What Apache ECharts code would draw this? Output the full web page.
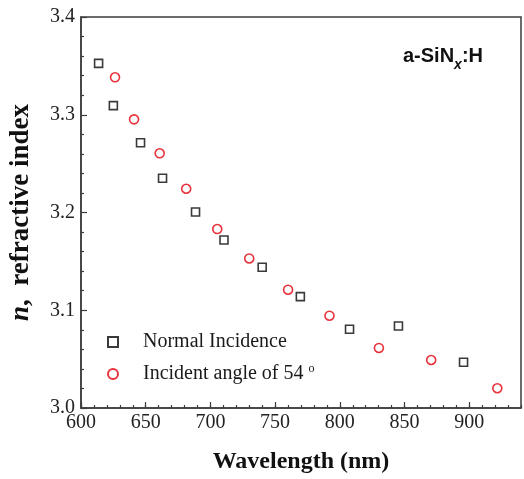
<!DOCTYPE html>
<html>
<head>
<meta charset="utf-8">
<script src="https://cdn.jsdelivr.net/npm/echarts@6/dist/echarts.min.js"></script>
<style>
  html, body { margin: 0; padding: 0; background: #fff; }
  #chart { width: 524px; height: 479px; }
</style>
</head>
<body>
<div id="chart"></div>
<script>
// values
const normalWl = [613.6, 625, 646, 663, 688.5, 710.5, 740, 769.5, 807.5, 845.3, 895.6];
const normalN = [3.3526, 3.3093, 3.2714, 3.235, 3.2005, 3.1719, 3.144, 3.1139, 3.0805, 3.0839, 3.0468];

const angleWl = [626.3, 641, 660.8, 681.3, 705.3, 730, 760, 792, 830.2, 870.6, 921.7];
const angleN = [3.3383, 3.2953, 3.2606, 3.2243, 3.1831, 3.153, 3.121, 3.0944, 3.0614, 3.0491, 3.0202];

const seriesNames = ['Normal Incidence', 'Incident angle of 54'];

const serif = '"Liberation Serif", "DejaVu Serif", serif';
const sans = '"Liberation Sans", Arial, sans-serif';

const chart = echarts.init(document.getElementById('chart'));

const pairs = (xs, ys) => xs.map((x, i) => [x, ys[i]]);

const option = {
  animation: false,
  backgroundColor: '#fff',
  title: {
    text: '{a|a-SiN}{x|x}{a|:H}',
    left: 403,
    top: 40,
    padding: 0,
    textStyle: {
      rich: {
        a: { fontFamily: sans, fontWeight: 'bold', fontSize: 20, lineHeight: 32, color: '#111' },
        x: { fontFamily: sans, fontWeight: 'bold', fontStyle: 'italic', fontSize: 14, lineHeight: 14,
             verticalAlign: 'bottom', color: '#111' }
      }
    }
  },
  legend: {
    orient: 'vertical',
    left: 102,
    top: 327,
    itemWidth: 10,
    itemHeight: 10,
    itemGap: 11,
    data: seriesNames,
    formatter: name => name === seriesNames[1] ? '{t|' + name + ' }{s|o}' : '{t|' + name + '}',
    textStyle: {
      padding: [0, 0, 0, 20],
      rich: {
        t: { fontFamily: serif, fontSize: 20, lineHeight: 22, color: '#1a1a1a' },
        s: { fontFamily: serif, fontSize: 12, lineHeight: 12, verticalAlign: 'top', color: '#1a1a1a' }
      }
    }
  },
  grid: {
    left: 79, top: 17, right: 3, bottom: 71,
    show: true, borderColor: '#3c3c3c', borderWidth: 1.5
  },
  xAxis: [
    {
      type: 'value', min: 600, max: 940, interval: 50,
      name: 'Wavelength (nm)', nameLocation: 'middle', nameGap: 42,
      nameTextStyle: { fontFamily: serif, fontWeight: 'bold', fontSize: 24, color: '#111' },
      axisLine: { show: true, lineStyle: { color: '#3c3c3c', width: 1.5 } },
      axisTick: { inside: true, length: 6, lineStyle: { color: '#3c3c3c', width: 1.2 } },
      axisLabel: { fontFamily: serif, fontSize: 20, color: '#222', margin: 5, showMaxLabel: false },
      splitLine: { show: false }
    },
    {
      type: 'value', min: 600, max: 940, interval: 10, position: 'bottom',
      axisLine: { show: false },
      axisTick: { inside: true, length: 3, lineStyle: { color: '#3c3c3c', width: 1.2 } },
      axisLabel: { show: false },
      splitLine: { show: false }
    }
  ],
  yAxis: {
    type: 'value', min: 3.0, max: 3.4, interval: 0.1,
    name: '{i|n},  {b|refractive index}', nameLocation: 'middle', nameGap: 46, nameRotate: 90,
    nameTextStyle: {
      rich: {
        i: { fontFamily: serif, fontWeight: 'bold', fontStyle: 'italic', fontSize: 27, color: '#111' },
        b: { fontFamily: serif, fontWeight: 'bold', fontSize: 27, color: '#111' }
      },
      fontFamily: serif, fontWeight: 'bold', fontSize: 27, color: '#111'
    },
    axisLine: { show: true, lineStyle: { color: '#3c3c3c', width: 1.5 } },
    axisTick: { inside: true, length: 6, lineStyle: { color: '#3c3c3c', width: 1.2 } },
    minorTick: { show: true, splitNumber: 5, length: 3, lineStyle: { color: '#3c3c3c', width: 1.2 } },
    axisLabel: { fontFamily: serif, fontSize: 20, color: '#222', margin: 6, formatter: v => v.toFixed(1) },
    splitLine: { show: false },
    minorSplitLine: { show: false }
  },
  series: [
    {
      name: seriesNames[0],
      type: 'scatter',
      symbol: 'rect',
      symbolSize: 8,
      itemStyle: { color: '#fff', borderColor: '#3a3a3a', borderWidth: 1.6, opacity: 1 },
      data: pairs(normalWl, normalN)
    },
    {
      name: seriesNames[1],
      type: 'scatter',
      symbol: 'circle',
      symbolSize: 9,
      itemStyle: { color: '#fff', borderColor: '#e8323c', borderWidth: 1.6, opacity: 1 },
      data: pairs(angleWl, angleN)
    }
  ]
};

chart.setOption(option);
</script>
</body>
</html>
